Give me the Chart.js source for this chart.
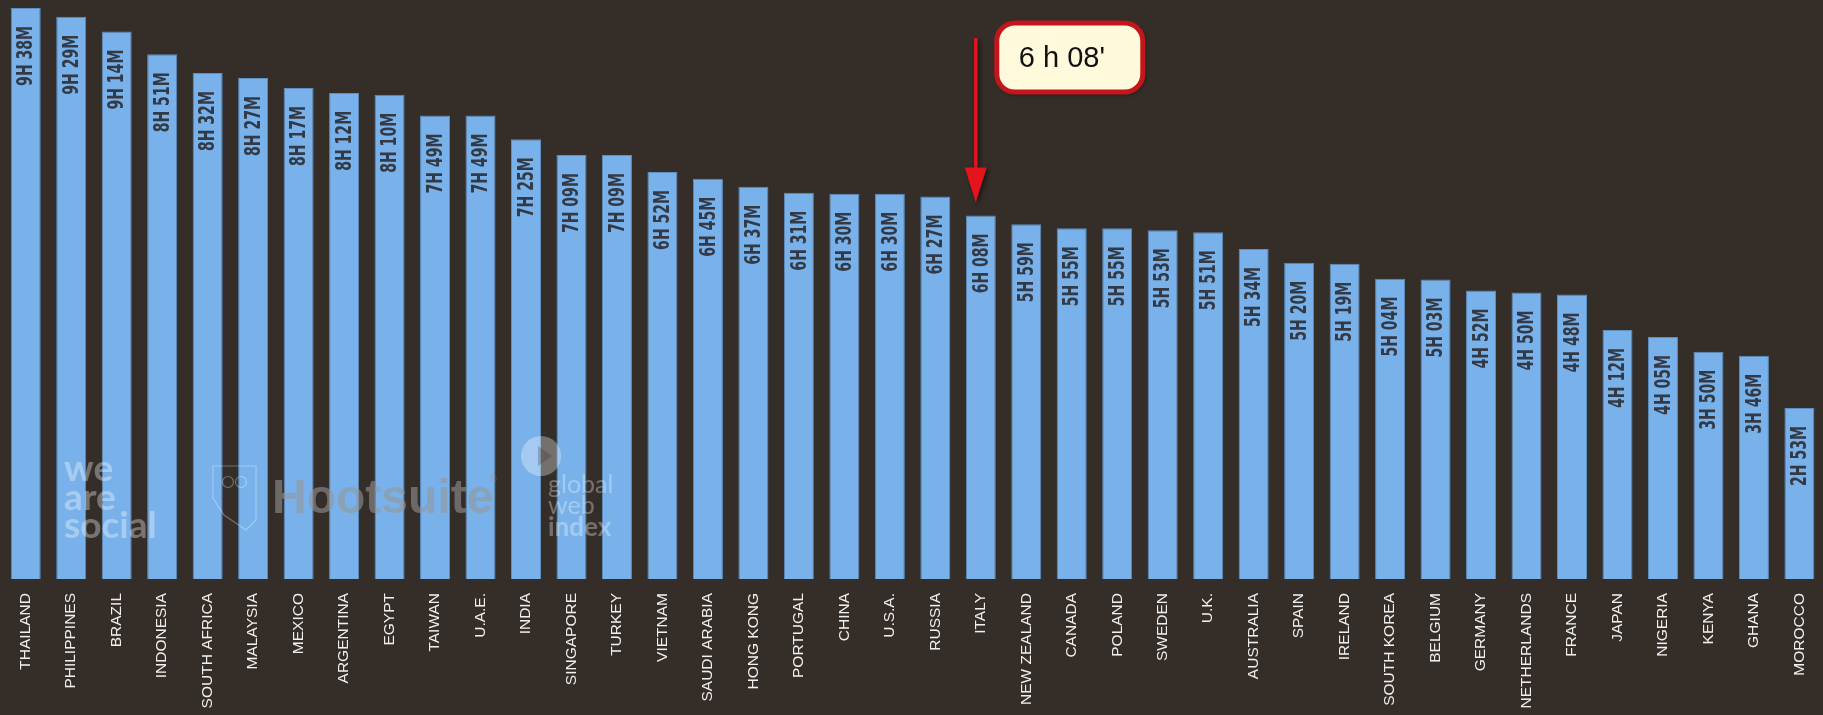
<!DOCTYPE html>
<html>
<head>
<meta charset="utf-8">
<script src="https://cdn.jsdelivr.net/npm/chart.js@4.4.1/dist/chart.umd.min.js"></script>
<style>
  html, body { margin: 0; padding: 0; background: #342d28; overflow: hidden; width: 1823px; height: 715px; }
  #wrap { position: absolute; left: 0; top: 0; width: 1832px; height: 715px; }
</style>
</head>
<body>
<div id="wrap"><canvas id="c"></canvas></div>
<script>
const countries = ["THAILAND","PHILIPPINES","BRAZIL","INDONESIA","SOUTH AFRICA","MALAYSIA","MEXICO","ARGENTINA","EGYPT","TAIWAN","U.A.E.","INDIA","SINGAPORE","TURKEY","VIETNAM","SAUDI ARABIA","HONG KONG","PORTUGAL","CHINA","U.S.A.","RUSSIA","ITALY","NEW ZEALAND","CANADA","POLAND","SWEDEN","U.K.","AUSTRALIA","SPAIN","IRELAND","SOUTH KOREA","BELGIUM","GERMANY","NETHERLANDS","FRANCE","JAPAN","NIGERIA","KENYA","GHANA","MOROCCO"];
// daily internet time, in minutes
const minutesOnline = [578,569,554,531,512,507,497,492,490,469,469,445,429,429,412,405,397,391,390,390,387,368,359,355,355,353,351,334,320,319,304,303,292,290,288,252,245,230,226,173];
const highlightCountry = "ITALY";
const highlightText = "6 h 08'";
const watermarkWeAreSocial = ["we","are","social"];
const watermarkHootsuite = "Hootsuite";
const watermarkGWI = ["global","web","index"];

function fmt(v){ return Math.floor(v/60) + "H " + String(v % 60).padStart(2,"0") + "M"; }

const valueLabels = {
  id: "valueLabels",
  afterDatasetsDraw(chart){
    const ctx = chart.ctx;
    const meta = chart.getDatasetMeta(0);
    ctx.save();
    ctx.fillStyle = "#333a46";
    ctx.font = "bold 22px 'DejaVu Sans Condensed', 'DejaVu Sans', sans-serif";
    ctx.textAlign = "right";
    ctx.textBaseline = "middle";
    meta.data.forEach((bar, i) => {
      ctx.save();
      ctx.translate(bar.x, bar.y + 18);
      ctx.rotate(-Math.PI/2);
      ctx.scale(0.71, 1);
      ctx.fillText(fmt(minutesOnline[i]), 0, 1);
      ctx.restore();
    });
    ctx.restore();
  }
};

const overlays = {
  id: "overlays",
  afterDraw(chart){
    const ctx = chart.ctx;
    const xs = chart.scales.x;
    // watermarks
    ctx.save();
    ctx.fillStyle = "rgba(255,255,255,0.34)";
    ctx.font = "bold 37px 'Lato', 'DejaVu Sans', sans-serif";
    ctx.textAlign = "left"; ctx.textBaseline = "alphabetic";
    watermarkWeAreSocial.forEach((t, k) => ctx.fillText(t, 64, 481 + k*28.5));
    ctx.fillStyle = "rgba(150,150,150,0.58)";
    ctx.font = "bold 48px 'Liberation Sans', Arial, sans-serif";
    ctx.fillText(watermarkHootsuite, 272, 513);
    ctx.font = "9px 'Liberation Sans', Arial, sans-serif";
    ctx.fillText("®", 490, 482);
    // owl shield outline
    ctx.strokeStyle = "rgba(255,255,255,0.32)";
    ctx.lineWidth = 1.2;
    ctx.beginPath();
    ctx.moveTo(213, 466); ctx.lineTo(256, 466); ctx.lineTo(256, 520);
    ctx.lineTo(246, 530); ctx.lineTo(224, 515); ctx.lineTo(213, 498); ctx.closePath();
    ctx.stroke();
    ctx.beginPath(); ctx.arc(228, 482, 5.5, 0, Math.PI*2); ctx.stroke();
    ctx.beginPath(); ctx.arc(241, 482, 5.5, 0, Math.PI*2); ctx.stroke();
    // global web index
    ctx.fillStyle = "rgba(255,255,255,0.32)";
    ctx.beginPath(); ctx.arc(541, 456, 20, 0, Math.PI*2); ctx.fill();
    ctx.fillStyle = "rgba(52,45,40,0.25)";
    ctx.beginPath(); ctx.moveTo(538, 446); ctx.lineTo(552, 456); ctx.lineTo(538, 466); ctx.closePath(); ctx.fill();
    ctx.fillStyle = "rgba(255,255,255,0.32)";
    ctx.font = "25px 'Lato', 'DejaVu Sans', sans-serif";
    ctx.fillText(watermarkGWI[0], 548, 493);
    ctx.fillText(watermarkGWI[1], 548, 514);
    ctx.font = "bold 26px 'Lato', 'DejaVu Sans', sans-serif";
    ctx.fillText(watermarkGWI[2], 548, 536);
    ctx.restore();

    // highlight arrow + callout
    const idx = countries.indexOf(highlightCountry);
    const bar = chart.getDatasetMeta(0).data[idx];
    const ax = xs.getPixelForValue(idx) - 5;
    const tip = bar.y - 13;
    ctx.save();
    ctx.shadowColor = "rgba(0,0,0,0.5)"; ctx.shadowBlur = 4; ctx.shadowOffsetX = 2; ctx.shadowOffsetY = 2;
    ctx.strokeStyle = "#e3141b"; ctx.fillStyle = "#e3141b";
    ctx.lineWidth = 3.5;
    ctx.beginPath(); ctx.moveTo(ax, 38); ctx.lineTo(ax, tip - 30); ctx.stroke();
    ctx.beginPath(); ctx.moveTo(ax - 11, tip - 35); ctx.lineTo(ax + 11, tip - 35); ctx.lineTo(ax, tip); ctx.closePath(); ctx.fill();
    ctx.restore();

    ctx.save();
    const bx = ax + 21, by = 23, bw = 146, bh = 69, r = 18;
    ctx.shadowColor = "rgba(0,0,0,0.45)"; ctx.shadowBlur = 5; ctx.shadowOffsetX = 2; ctx.shadowOffsetY = 2;
    ctx.beginPath(); ctx.roundRect(bx, by, bw, bh, r);
    ctx.fillStyle = "#fffadb"; ctx.fill();
    ctx.shadowColor = "transparent";
    ctx.lineWidth = 5; ctx.strokeStyle = "#c3151c"; ctx.stroke();
    ctx.fillStyle = "#111";
    ctx.font = "29px 'Liberation Sans', Arial, sans-serif";
    ctx.textAlign = "left"; ctx.textBaseline = "alphabetic";
    ctx.fillText(highlightText, bx + 22, by + 44);
    ctx.restore();
  }
};

new Chart(document.getElementById("c"), {
  type: "bar",
  data: {
    labels: countries,
    datasets: [{
      data: minutesOnline,
      backgroundColor: "#79b2ea",
      borderColor: "#5d8fc2",
      borderWidth: 1,
      categoryPercentage: 1,
      barPercentage: 0.66
    }]
  },
  options: {
    responsive: true,
    maintainAspectRatio: false,
    animation: false,
    layout: { padding: { left: 3, right: 0, top: 0, bottom: 0 } },
    plugins: { legend: { display: false }, tooltip: { enabled: false } },
    scales: {
      x: {
        grid: { display: false, drawTicks: false },
        border: { display: false },
        ticks: {
          autoSkip: false, minRotation: 90, maxRotation: 90, padding: 14,
          color: "#f0f0f0",
          font: { family: "'Liberation Sans', Arial, sans-serif", size: 15.5 }
        },
        afterFit(axis){ axis.height = 136; }
      },
      y: { display: false, min: 0, max: 586 }
    }
  },
  plugins: [valueLabels, overlays]
});
</script>
</body>
</html>
